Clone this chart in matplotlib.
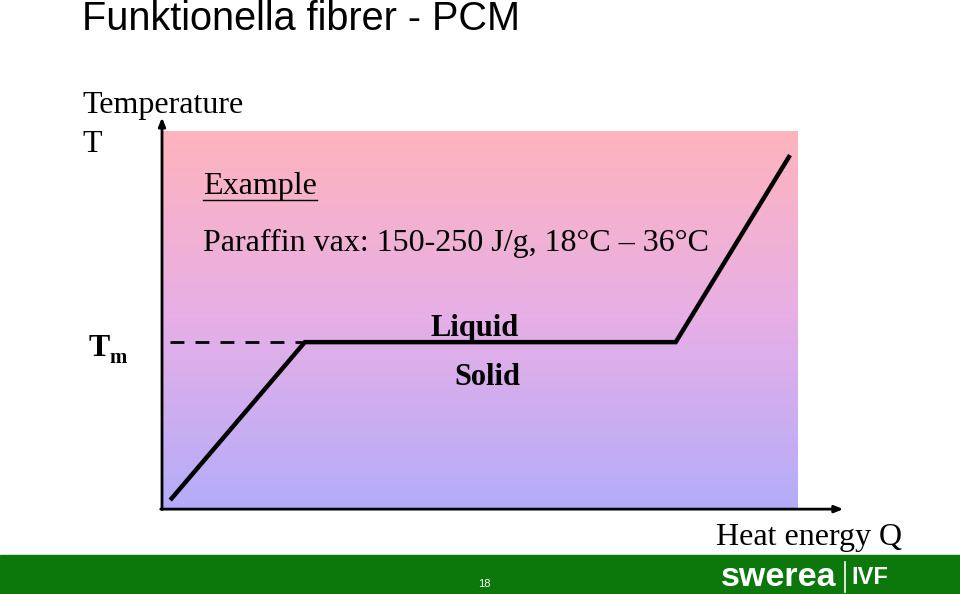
import numpy as np
import matplotlib.pyplot as plt
from matplotlib.colors import LinearSegmentedColormap

# ===========================
# Data (schematic heating curve of a PCM)
# ===========================

heat_q = [1.3, 22.5, 80.9, 98.9]        # heat energy Q (arbitrary units)
temp_t = [2.1, 44.0, 44.0, 93.6]        # temperature T (arbitrary units)
tm_level = 44.0
tm_dash_q = [1.3, 22.5]

title = "Funktionella fibrer - PCM"
example_title = "Example"
example_text = "Paraffin vax: 150-250 J/g, 18\u00b0C \u2013 36\u00b0C"
phase_labels = ["Liquid", "Solid"]
page_number = "18"

serif = ["Liberation Serif", "DejaVu Serif"]
sans = ["Liberation Sans", "DejaVu Sans"]

# ===========================
# Figure
# ===========================

W, H = 960, 594
fig = plt.figure(figsize=(W / 100, H / 100), dpi=100)

# plot area (gradient box) in pixel terms
left, right, top, bottom = 162, 797, 131, 508
ax = fig.add_axes([left / W, 1 - bottom / H, (right - left) / W, (bottom - top) / H])
ax.set_xlim(0, 100)
ax.set_ylim(0, 100)
ax.axis("off")

grad_cmap = LinearSegmentedColormap.from_list(
    "pcm", ["#B4ACFA", "#E6AFE6", "#FFB4BD"])
grad = np.linspace(0, 1, 256).reshape(-1, 1)
ax.imshow(grad, cmap=grad_cmap, origin="lower", extent=[0, 100, 0, 100],
          aspect="auto", zorder=0)

# curve
ax.plot(heat_q, temp_t, color="black", lw=3.2, solid_joinstyle="miter",
        solid_capstyle="butt", zorder=3)
ax.plot(tm_dash_q, [tm_level, tm_level], color="black", lw=2,
        dashes=(5, 4), zorder=3)

# axes with arrows
ax.annotate("", xy=(0, 1.036), xytext=(0, -0.004), xycoords="axes fraction",
            arrowprops=dict(arrowstyle="-|>,head_length=0.5,head_width=0.2",
                            color="black", lw=2, shrinkA=0, shrinkB=0),
            annotation_clip=False)
ax.annotate("", xy=(1.073, -0.003), xytext=(-0.002, -0.003),
            xycoords="axes fraction",
            arrowprops=dict(arrowstyle="-|>,head_length=0.5,head_width=0.2",
                            color="black", lw=2, shrinkA=0, shrinkB=0),
            annotation_clip=False)

# labels inside
ax.text(6.4, 85.2, example_title, family=serif, fontsize=23, va="center",
        ha="left")
ax.plot([6.4, 24.4], [81.8, 81.8], color="black", lw=1)
ax.text(6.4, 70.2, example_text, family=serif, fontsize=23, va="center",
        ha="left")
ax.text(49.3, 47.6, phase_labels[0], family=serif, fontsize=22,
        fontweight="bold", ha="center", va="center")
ax.text(51.2, 34.6, phase_labels[1], family=serif, fontsize=22,
        fontweight="bold", ha="center", va="center")

# figure-level text
fig.text(82 / W, 1 - 19 / H, title, family=sans, fontsize=28.5, va="center",
         ha="left")
fig.text(82 / W, 1 - 105 / H, "Temperature", family=serif, fontsize=23,
         va="center", ha="left")
fig.text(82 / W, 1 - 144 / H, "T", family=serif, fontsize=23, va="center",
         ha="left")
fig.text(89 / W, 1 - 348 / H, "T", family=serif, fontsize=23,
         fontweight="bold", va="center", ha="left")
fig.text(109 / W, 1 - 358 / H, "m", family=serif, fontsize=15,
         fontweight="bold", va="center", ha="left")
fig.text(902 / W, 1 - 537 / H, "Heat energy Q", family=serif, fontsize=23,
         va="center", ha="right")

# green footer
fig.patches.append(plt.Rectangle((0, 0), 1, 39 / H, transform=fig.transFigure,
                                 color="#0C780C", zorder=0))
fig.text(484 / W, 1 - 584 / H, page_number, family=sans, fontsize=8,
         color="white", va="center", ha="center")
fig.text(721 / W, 1 - 578 / H, "swerea", family=sans, fontsize=24.5,
         fontweight="bold", color="white", va="center", ha="left")
fig.text(851 / W, 1 - 578 / H, "IVF", family=sans, fontsize=17,
         fontweight="heavy", color="white", va="center", ha="left")
fig.add_artist(plt.Line2D([845 / W, 845 / W], [1 - 592 / H, 1 - 562 / H],
                          color="white", lw=1.2))

plt.savefig("out.png", dpi=100)
plt.close()
